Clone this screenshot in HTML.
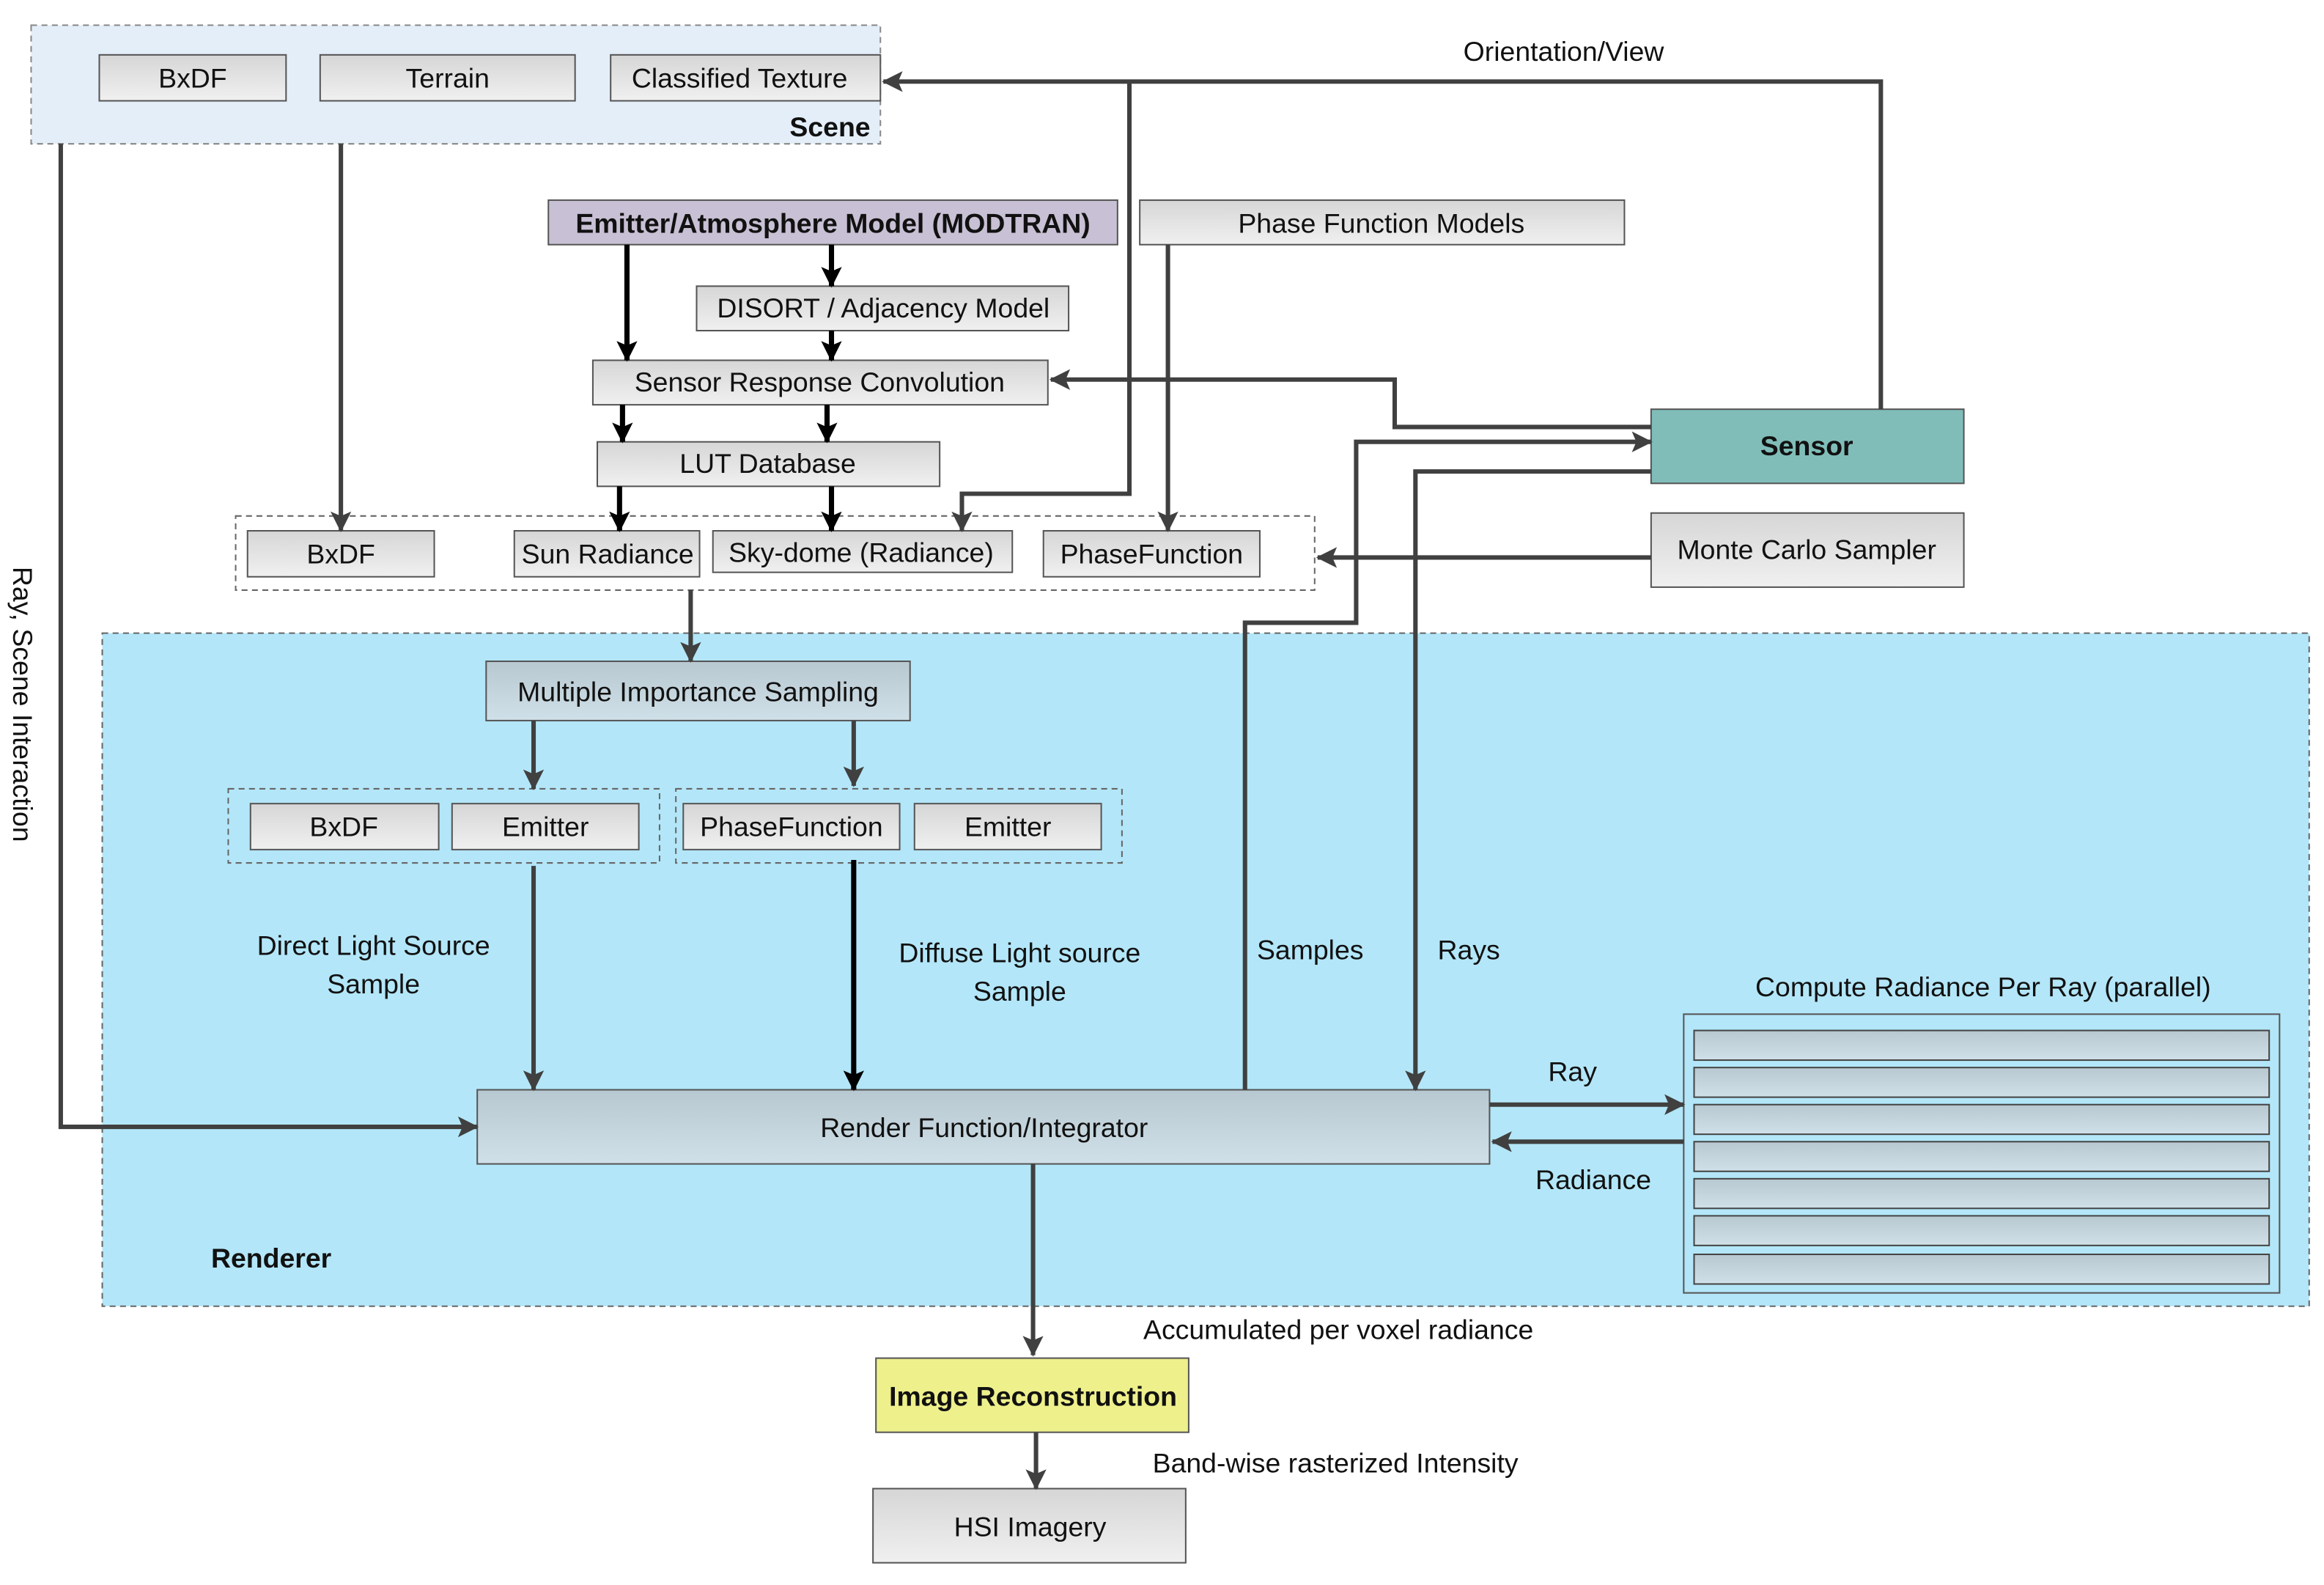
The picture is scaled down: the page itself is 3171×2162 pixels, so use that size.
<!DOCTYPE html>
<html><head><meta charset="utf-8"><style>html,body{margin:0;padding:0;background:#fff}svg{display:block}text{font-family:"Liberation Sans",sans-serif;font-size:18.5px;fill:#111}</style></head>
<body>
<svg width="3171" height="2162" viewBox="0 0 1568 1069" preserveAspectRatio="none" xmlns="http://www.w3.org/2000/svg">
<defs>
<linearGradient id="g" x1="0" y1="0" x2="0" y2="1"><stop offset="0" stop-color="#d6d6d6"/><stop offset="1" stop-color="#f0f0f0"/></linearGradient>
<linearGradient id="b" x1="0" y1="0" x2="0" y2="1"><stop offset="0" stop-color="#b8c8d0"/><stop offset="1" stop-color="#d0e0e8"/></linearGradient>
<marker id="a" markerWidth="14" markerHeight="14" refX="13" refY="7" orient="auto" markerUnits="userSpaceOnUse"><path d="M0,0 L14,7 L0,14 L3,7 Z" fill="#404040"/></marker>
<marker id="k" markerWidth="14" markerHeight="14" refX="13" refY="7" orient="auto" markerUnits="userSpaceOnUse"><path d="M0,0 L14,7 L0,14 L3,7 Z" fill="#000"/></marker>
</defs>
<rect x="21" y="17" width="573" height="80" fill="#e4eef8" stroke="#888" stroke-dasharray="4,3"/>
<rect x="69" y="427" width="1489" height="454" fill="#b3e6f8" stroke="#666" stroke-dasharray="4,3"/>
<rect x="159" y="348" width="728" height="50" fill="none" stroke="#666" stroke-dasharray="4,3"/>
<rect x="154" y="532" width="291" height="50" fill="none" stroke="#666" stroke-dasharray="4,3"/>
<rect x="456" y="532" width="301" height="50" fill="none" stroke="#666" stroke-dasharray="4,3"/>
<rect x="1136" y="684" width="402" height="188" fill="none" stroke="#555"/>
<g stroke="#444" fill="url(#b)">
<rect x="1143" y="695" width="388" height="20"/><rect x="1143" y="720" width="388" height="20"/><rect x="1143" y="745" width="388" height="20"/><rect x="1143" y="770" width="388" height="20"/><rect x="1143" y="795" width="388" height="20"/><rect x="1143" y="820" width="388" height="20"/><rect x="1143" y="846" width="388" height="20"/>
</g>
<g stroke="#555" stroke-width="1" fill="url(#g)">
<rect x="67" y="37" width="126" height="31"/><rect x="216" y="37" width="172" height="31"/><rect x="412" y="37" width="182" height="31"/>
<rect x="370" y="135" width="384" height="30" fill="#c8c0d4"/>
<rect x="769" y="135" width="327" height="30"/>
<rect x="470" y="193" width="251" height="30"/>
<rect x="400" y="243" width="307" height="30"/>
<rect x="403" y="298" width="231" height="30"/>
<rect x="167" y="358" width="126" height="31"/><rect x="347" y="358" width="125" height="31"/><rect x="481" y="358" width="202" height="28"/><rect x="704" y="358" width="146" height="31"/>
<rect x="1114" y="276" width="211" height="50" fill="#80bdb9"/>
<rect x="1114" y="346" width="211" height="50"/>
<rect x="328" y="446" width="286" height="40" fill="url(#b)"/>
<rect x="169" y="542" width="127" height="31"/><rect x="305" y="542" width="126" height="31"/>
<rect x="461" y="542" width="146" height="31"/><rect x="617" y="542" width="126" height="31"/>
<rect x="322" y="735" width="683" height="50" fill="url(#b)"/>
<rect x="591" y="916" width="211" height="50" fill="#eef08c"/>
<rect x="589" y="1004" width="211" height="50"/>
</g>
<g stroke="#404040" stroke-width="3" fill="none" marker-end="url(#a)">
<polyline points="1269,276 1269,55 596,55"/>
<polyline points="762,55 762,333 649,333 649,358"/>
<polyline points="41,97 41,760 322,760"/>
<polyline points="230,97 230,358"/>
<polyline points="788,165 788,358"/>
<polyline points="1114,288 941,288 941,256 709,256"/>
<polyline points="840,735 840,420 915,420 915,298 1114,298"/>
<polyline points="1114,318 955,318 955,735"/>
<polyline points="1114,376 889,376"/>
<polyline points="466,398 466,446"/>
<polyline points="360,486 360,532"/><polyline points="576,486 576,530"/>
<polyline points="360,584 360,735"/>
<polyline points="1005,745 1136,745"/><polyline points="1136,770 1007,770"/>
<polyline points="697,785 697,914"/><polyline points="699,966 699,1004"/>
</g>
<g stroke="#000" stroke-width="3.5" fill="none" marker-end="url(#k)">
<polyline points="423,165 423,243"/><polyline points="561,165 561,193"/>
<polyline points="561,223 561,243"/>
<polyline points="420,273 420,298"/><polyline points="558,273 558,298"/>
<polyline points="418,328 418,358"/><polyline points="561,328 561,358"/>
<polyline points="576,580 576,735"/>
</g>
<g text-anchor="middle">
<text x="130" y="59">BxDF</text><text x="302" y="59">Terrain</text><text x="499" y="59" font-size="17.5">Classified Texture</text>
<text x="562" y="157" font-weight="bold" font-size="17.5">Emitter/Atmosphere Model (MODTRAN)</text>
<text x="932" y="157">Phase Function Models</text>
<text x="596" y="214">DISORT / Adjacency Model</text>
<text x="553" y="264">Sensor Response Convolution</text>
<text x="518" y="319">LUT Database</text>
<text x="230" y="380">BxDF</text><text x="410" y="380" font-size="17">Sun Radiance</text><text x="581" y="379">Sky-dome (Radiance)</text><text x="777" y="380" font-size="17.5">PhaseFunction</text>
<text x="1219" y="307" font-weight="bold">Sensor</text>
<text x="1219" y="377">Monte Carlo Sampler</text>
<text x="471" y="473">Multiple Importance Sampling</text>
<text x="232" y="564">BxDF</text><text x="368" y="564">Emitter</text>
<text x="534" y="564" font-size="17.5">PhaseFunction</text><text x="680" y="564">Emitter</text>
<text x="664" y="767">Render Function/Integrator</text>
<text x="697" y="948" font-weight="bold">Image Reconstruction</text>
<text x="695" y="1036">HSI Imagery</text>
<text x="1055" y="41">Orientation/View</text>
<text x="252" y="644">Direct Light Source</text><text x="252" y="670">Sample</text>
<text x="688" y="649">Diffuse Light source</text><text x="688" y="675">Sample</text>
<text x="884" y="647">Samples</text><text x="991" y="647">Rays</text>
<text x="1338" y="672">Compute Radiance Per Ray (parallel)</text>
<text x="1061" y="729">Ray</text><text x="1075" y="802">Radiance</text>
<text x="183" y="855" font-weight="bold">Renderer</text>
<text x="903" y="903">Accumulated per voxel radiance</text>
<text x="901" y="993">Band-wise rasterized Intensity</text>
<text x="560" y="92" font-weight="bold">Scene</text>
<text x="0" y="0" transform="translate(9,475) rotate(90)">Ray, Scene Interaction</text>
</g>
</svg>
</body></html>
